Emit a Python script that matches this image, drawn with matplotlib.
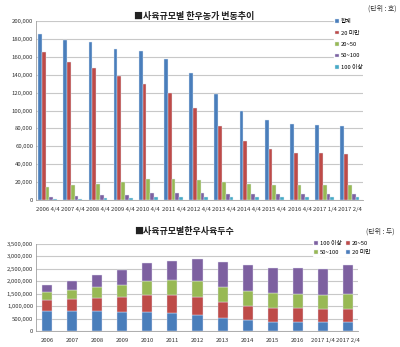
import numpy as np
import matplotlib
matplotlib.use('Agg')
import matplotlib.pyplot as plt
from matplotlib.ticker import FuncFormatter

plt.rcParams['font.family'] = ['Noto Sans CJK KR', 'DejaVu Sans']

# top chart: number of farms by herd size (unit: households)
farm_periods = ['2006 4/4', '2007 4/4', '2008 4/4', '2009 4/4', '2010 4/4', '2011 4/4',
                '2012 4/4', '2013 4/4', '2014 4/4', '2015 4/4', '2016 4/4', '2017 1/4', '2017 2/4']
farm_total = [186000, 179000, 176000, 169000, 166000, 158000, 142000, 118000, 99000, 89000, 85000, 84000, 83000]
farm_lt20 = [165000, 154000, 148000, 138000, 130000, 120000, 103000, 83000, 66000, 57000, 53000, 53000, 51000]
farm_20_50 = [14500, 17000, 18000, 20000, 23000, 24000, 22500, 20000, 17500, 17000, 17000, 17000, 17000]
farm_50_100 = [3500, 4500, 5500, 6000, 7500, 8000, 7500, 7000, 7000, 6500, 6500, 6500, 7000]
farm_ge100 = [1000, 1500, 2000, 2500, 3000, 3500, 3500, 3000, 3000, 3000, 3000, 3000, 3000]
farm_labels = ['합계', '20 미만', '20~50', '50~100', '100 이상']

# bottom chart: number of cattle by herd size (unit: heads)
head_periods = ['2006', '2007', '2008', '2009', '2010', '2011', '2012', '2013',
                '2014', '2015', '2016', '2017 1/4', '2017 2/4']
head_lt20 = [810000, 800000, 800000, 765000, 775000, 725000, 645000, 525000, 445000, 375000, 350000, 375000, 360000]
head_20_50 = [440000, 500000, 540000, 615000, 685000, 735000, 710000, 655000, 560000, 565000, 560000, 525000, 540000]
head_50_100 = [305000, 350000, 415000, 455000, 565000, 590000, 645000, 605000, 590000, 575000, 565000, 550000, 590000]
head_ge100 = [280000, 375000, 495000, 630000, 725000, 765000, 910000, 1005000, 1060000, 1035000, 1075000, 1030000, 1150000]

c_blue = '#4a7ebb'
c_red = '#be4b48'
c_green = '#98b954'
c_purple = '#7d60a0'
c_cyan = '#46aac5'
grid_c = '#c8c8c8'

fig = plt.figure(figsize=(4.0, 3.47), dpi=100)

comma = FuncFormatter(lambda v, p: '{:,.0f}'.format(v))

# ---- top chart
ax1 = fig.add_axes([0.09, 0.4236, 0.8175, 0.5159])
x = np.arange(len(farm_periods))
w = 0.15
series = [farm_total, farm_lt20, farm_20_50, farm_50_100, farm_ge100]
colors = [c_blue, c_red, c_green, c_purple, c_cyan]
for i, (vals, col, lab) in enumerate(zip(series, colors, farm_labels)):
    ax1.bar(x + (i - 2) * w, vals, w, color=col, edgecolor='#dfe8f5', linewidth=0.3,
            label=lab, zorder=3)
ax1.set_xlim(-0.46, 12.52)
ax1.set_ylim(0, 200000)
ax1.set_yticks(np.arange(0, 200001, 20000))
ax1.yaxis.set_major_formatter(comma)
ax1.set_xticks(x)
ax1.set_xticklabels(farm_periods)
ax1.tick_params(axis='both', length=0, labelsize=4.3, pad=2, colors='#333333')
ax1.tick_params(axis='x', pad=5)
ax1.grid(axis='y', color=grid_c, linewidth=0.8, zorder=0)
for s in ['top', 'right']:
    ax1.spines[s].set_visible(False)
for s in ['left', 'bottom']:
    ax1.spines[s].set_color('#a0a0a0')
    ax1.spines[s].set_linewidth(0.6)
leg1 = ax1.legend(loc='upper right', bbox_to_anchor=(1.005, 1.02), fontsize=4.2, frameon=True,
                  handlelength=0.6, handleheight=0.6, handletextpad=0.4, labelspacing=1.1,
                  borderpad=0.3, borderaxespad=0)
leg1.get_frame().set_edgecolor('white')
leg1.get_frame().set_facecolor('white')
leg1.get_frame().set_alpha(1)

fig.text(0.485, 0.953, '■사육규모별 한우농가 변동추이', ha='center', va='center',
         fontsize=6.5, fontweight='bold', color='#222222')
fig.text(0.92, 0.975, '(단위 : 호)', ha='left', va='center', fontsize=5, color='#333333')

# ---- bottom chart
ax2 = fig.add_axes([0.09, 0.046, 0.805, 0.251])
xb = np.arange(len(head_periods))
wb = 0.4
b0 = np.zeros(len(head_periods))
stack = [(head_lt20, c_blue, '20 미만'), (head_20_50, c_red, '20~50'),
         (head_50_100, c_green, '50~100'), (head_ge100, c_purple, '100 이상')]
handles = {}
for vals, col, lab in stack:
    h = ax2.bar(xb, vals, wb, bottom=b0, color=col, edgecolor='#e3e3f3', linewidth=0.3,
                label=lab, zorder=3)
    handles[lab] = h
    b0 = b0 + np.array(vals)
ax2.set_xlim(-0.44, 12.4)
ax2.set_ylim(0, 3500000)
ax2.set_yticks(np.arange(0, 3500001, 500000))
ax2.yaxis.set_major_formatter(comma)
ax2.set_xticks(xb)
ax2.set_xticklabels(head_periods)
ax2.tick_params(axis='both', length=0, labelsize=4.3, pad=2, colors='#333333')
ax2.tick_params(axis='x', pad=5)
ax2.grid(axis='y', color=grid_c, linewidth=0.8, zorder=0)
for s in ['top', 'right']:
    ax2.spines[s].set_visible(False)
for s in ['left', 'bottom']:
    ax2.spines[s].set_color('#a0a0a0')
    ax2.spines[s].set_linewidth(0.6)
order = ['100 이상', '50~100', '20~50', '20 미만']
leg2 = fig.legend([handles[k] for k in order], order, loc='upper left',
                  bbox_to_anchor=(0.775, 0.318), ncol=2, fontsize=4.2, frameon=True,
                  handlelength=0.6, handleheight=0.6, handletextpad=0.4, labelspacing=0.7,
                  columnspacing=0.8, borderpad=0.2)
leg2.get_frame().set_edgecolor('white')
leg2.get_frame().set_facecolor('white')
leg2.get_frame().set_alpha(1)

fig.text(0.46, 0.332, '■사육규모별한우사육두수', ha='center', va='center',
         fontsize=6.5, fontweight='bold', color='#222222')
fig.text(0.915, 0.332, '(단위 : 두)', ha='left', va='center', fontsize=5, color='#333333')

fig.savefig('out.png', dpi=100, facecolor='white')
